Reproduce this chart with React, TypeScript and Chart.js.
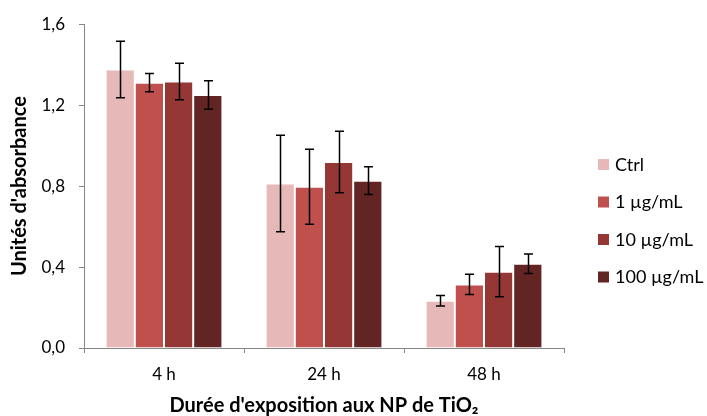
import React, { useEffect, useRef } from "react";
import { Chart, registerables } from "chart.js";

Chart.register(...registerables);

const categories = ["4 h", "24 h", "48 h"];
const seriesLabels = ["Ctrl", "1 µg/mL", "10 µg/mL", "100 µg/mL"];
const seriesColors = ["#E6B9B8", "#C0504D", "#953735", "#632523"];
const ctrlValues = [1.376, 0.813, 0.234];
const ctrlErrors = [0.14, 0.238, 0.026];
const oneValues = [1.311, 0.797, 0.314];
const oneErrors = [0.045, 0.185, 0.05];
const tenValues = [1.317, 0.919, 0.377];
const tenErrors = [0.09, 0.152, 0.124];
const hundredValues = [1.25, 0.827, 0.416];
const hundredErrors = [0.07, 0.068, 0.048];
const yTicks = [0, 0.4, 0.8, 1.2, 1.6];

const FONT = "Lato, 'Open Sans', sans-serif";

const errorBarPlugin = {
  id: "errorBars",
  afterDatasetsDraw(chart: any) {
    const ctx = chart.ctx;
    const y = chart.scales.y;
    ctx.save();
    ctx.strokeStyle = "#000";
    ctx.lineWidth = 1.5;
    chart.data.datasets.forEach((ds: any, di: number) => {
      const meta = chart.getDatasetMeta(di);
      meta.data.forEach((bar: any, i: number) => {
        const v = ds.data[i];
        const e = ds.errors[i];
        const yt = y.getPixelForValue(v + e);
        const yb = y.getPixelForValue(v - e);
        const x = Math.round(bar.x) + 0.5;
        const cap = 4.5;
        ctx.beginPath();
        ctx.moveTo(x, yt);
        ctx.lineTo(x, yb);
        ctx.moveTo(x - cap, yt);
        ctx.lineTo(x + cap, yt);
        ctx.moveTo(x - cap, yb);
        ctx.lineTo(x + cap, yb);
        ctx.stroke();
      });
    });
    ctx.restore();
  },
};

const legendPlugin = {
  id: "sideLegend",
  afterDraw(chart: any) {
    const ctx = chart.ctx;
    const boxX = 598;
    const firstY = 164;
    const step = 37.5;
    ctx.save();
    ctx.font = `18px ${FONT}`;
    ctx.textBaseline = "middle";
    ctx.textAlign = "left";
    chart.data.datasets.forEach((ds: any, i: number) => {
      const cy = firstY + i * step;
      ctx.fillStyle = ds.backgroundColor;
      ctx.fillRect(boxX, cy - 5, 11, 11);
      ctx.fillStyle = "#000";
      ctx.fillText(ds.label, boxX + 17, cy + 1);
    });
    ctx.restore();
  },
};

export default function App() {
  const ref = useRef<HTMLCanvasElement | null>(null);
  useEffect(() => {
    if (!ref.current) return;
    const values = [ctrlValues, oneValues, tenValues, hundredValues];
    const errors = [ctrlErrors, oneErrors, tenErrors, hundredErrors];
    const chart = new Chart(ref.current, {
      type: "bar",
      data: {
        labels: categories,
        datasets: seriesLabels.map((label, i) => ({
          label,
          data: values[i],
          errors: errors[i],
          backgroundColor: seriesColors[i],
          borderColor: "rgba(255,255,255,0.3)",
          borderWidth: 1,
          categoryPercentage: 0.73,
          barPercentage: 1,
        })) as any,
      },
      options: {
        responsive: false,
        animation: false,
        devicePixelRatio: 1,
        layout: { autoPadding: false, padding: { top: 20, right: 143, bottom: 0, left: 0 } },
        plugins: { legend: { display: false }, tooltip: { enabled: false } },
        scales: {
          x: {
            grid: {
              display: true,
              drawOnChartArea: false,
              drawTicks: true,
              tickLength: 5,
              color: "#868686",
              offset: true,
            },
            border: { color: "#868686", width: 1 },
            ticks: { color: "#000", font: { family: FONT, size: 17 }, padding: 11 },
            title: {
              display: true,
              text: "Durée d'exposition aux NP de TiO₂",
              color: "#000",
              font: { family: FONT, size: 20, weight: "bold", lineHeight: 1 },
              padding: { top: 0, bottom: 0 },
            },
            afterFit(scale: any) {
              scale.height = 68;
            },
          },
          y: {
            min: 0,
            max: 1.6,
            grid: {
              display: true,
              drawOnChartArea: false,
              drawTicks: true,
              tickLength: 5,
              color: "#868686",
            },
            border: { color: "#868686", width: 1 },
            afterBuildTicks(scale: any) {
              scale.ticks = yTicks.map((v) => ({ value: v }));
            },
            ticks: {
              color: "#000",
              font: { family: FONT, size: 17 },
              padding: 14,
              callback: (v: any) => Number(v).toFixed(1).replace(".", ","),
            },
            title: {
              display: true,
              text: "Unités d'absorbance",
              color: "#000",
              font: { family: FONT, size: 20, weight: "bold", lineHeight: 1 },
              padding: { top: 10, bottom: 0 },
            },
            afterFit(scale: any) {
              scale.width = 84;
            },
          },
        },
      } as any,
      plugins: [errorBarPlugin, legendPlugin],
    });
    return () => chart.destroy();
  }, []);
  return (
    <div style={{ position: "fixed", left: 0, top: 0, width: 707, height: 416, background: "#fff" }}>
      <canvas ref={ref} width={707} height={416} />
    </div>
  );
}
